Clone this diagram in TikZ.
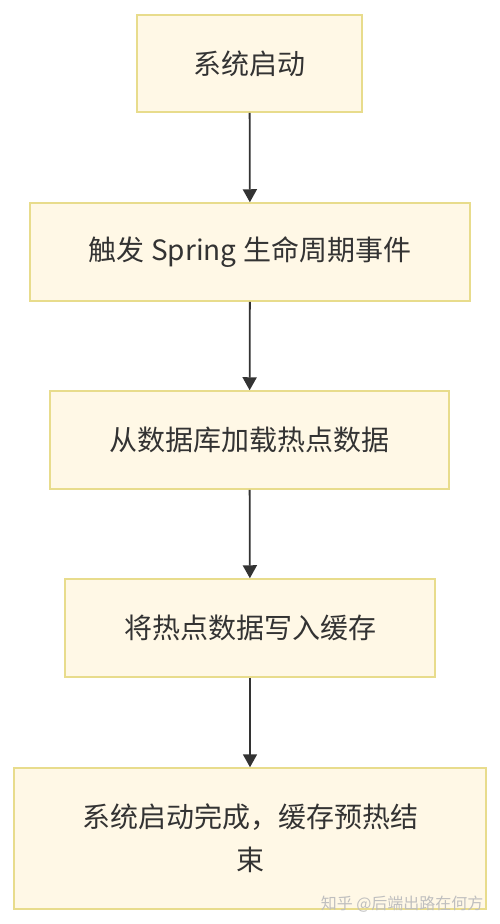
\documentclass[tikz,border=0pt]{standalone}
\usepackage{fontspec}
\setmainfont{Noto Sans CJK SC}
\usetikzlibrary{arrows.meta}
\definecolor{boxfill}{RGB}{255,248,230}
\definecolor{boxline}{RGB}{232,220,140}
\definecolor{inkgray}{RGB}{51,51,51}

\begin{document}
\begin{tikzpicture}[x=1pt,y=1pt,yscale=-1,xscale=1,
  stepbox/.style={draw=boxline,fill=boxfill,line width=1.5pt,inner sep=0pt,text=inkgray,
    font=\fontsize{28}{43}\selectfont,align=center},
  flowarrow/.style={draw=inkgray,line width=1.8pt,-{Triangle[width=14pt,length=13pt]}}]
\useasboundingbox (0,0) rectangle (500,924);

%Shape: Rectangle [id:start]
\node [stepbox,minimum width=225,minimum height=97] (start) at (249.5,63.5) {系统启动};
%Shape: Rectangle [id:trigger]
\node [stepbox,minimum width=440,minimum height=98] (trigger) at (250,252) {触发 Spring 生命周期事件};
%Shape: Rectangle [id:load]
\node [stepbox,minimum width=399,minimum height=98] (load) at (249.5,440) {从数据库加载热点数据};
%Shape: Rectangle [id:write]
\node [stepbox,minimum width=370,minimum height=98] (write) at (250,628) {将热点数据写入缓存};
%Shape: Rectangle [id:done]
\node [stepbox,minimum width=472,minimum height=141] (done) at (250,838.5) {系统启动完成，缓存预热结\\束};

%Straight Lines
\draw [flowarrow] (start) -- (trigger);
\draw [flowarrow] (trigger) -- (load);
\draw [flowarrow] (load) -- (write);
\draw [flowarrow] (write) -- (done);

% Text Node
\node [text=black!25,font=\fontsize{16}{16}\selectfont,anchor=east] (mark) at (487,904) {知乎 @后端出路在何方};

\end{tikzpicture}
\end{document}
